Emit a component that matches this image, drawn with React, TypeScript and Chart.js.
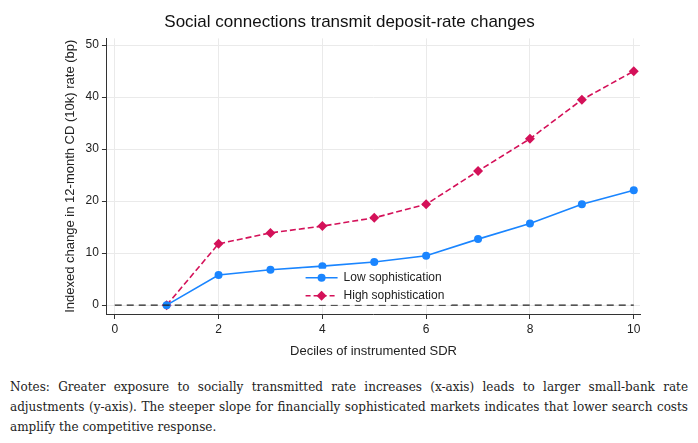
import React, { useEffect, useRef } from "react";
import { Chart, registerables } from "chart.js";
Chart.register(...registerables);

const deciles = [1, 2, 3, 4, 5, 6, 7, 8, 9, 10];
const lowSoph = [0, 5.8, 6.8, 7.5, 8.3, 9.5, 12.7, 15.7, 19.4, 22.1];
const highSoph = [0, 11.8, 13.9, 15.2, 16.8, 19.4, 25.8, 32.0, 39.5, 45.0];
const xTicks = [0, 2, 4, 6, 8, 10];
const yTicks = [0, 10, 20, 30, 40, 50];

const BLUE = "#1a85ff";
const RED = "#d41159";

const legendPlugin = {
  id: "insideLegend",
  afterDatasetsDraw(chart: any) {
    const { ctx, scales } = chart;
    const x0 = scales.x.getPixelForValue(3.6);
    const y0 = scales.y.getPixelForValue(7.0);
    const w = 150, h = 36;
    ctx.save();
    ctx.fillStyle = "#fff";
    ctx.fillRect(x0, y0, w, h);
    const items = [
      { c: BLUE, t: "Low sophistication", dash: [], shape: "circle" },
      { c: RED, t: "High sophistication", dash: [5, 3], shape: "diamond" },
    ];
    items.forEach((it, i) => {
      const yy = y0 + 9 + i * 18;
      ctx.strokeStyle = it.c;
      ctx.lineWidth = 1.6;
      ctx.setLineDash(it.dash);
      ctx.beginPath();
      ctx.moveTo(x0 + 4, yy);
      ctx.lineTo(x0 + 36, yy);
      ctx.stroke();
      ctx.setLineDash([]);
      ctx.fillStyle = it.c;
      ctx.beginPath();
      if (it.shape === "circle") ctx.arc(x0 + 20, yy, 4, 0, Math.PI * 2);
      else {
        ctx.moveTo(x0 + 20, yy - 5); ctx.lineTo(x0 + 25, yy); ctx.lineTo(x0 + 20, yy + 5); ctx.lineTo(x0 + 15, yy);
        ctx.closePath();
      }
      ctx.fill();
      ctx.fillStyle = "#222";
      ctx.font = "12px 'Liberation Sans', Arial, sans-serif";
      ctx.textBaseline = "middle";
      ctx.fillText(it.t, x0 + 42, yy);
    });
    ctx.restore();
  },
};

export default function App() {
  const ref = useRef<HTMLCanvasElement>(null);
  useEffect(() => {
    const chart = new Chart(ref.current!, {
      type: "line",
      data: {
        datasets: [
          {
            label: "zero",
            data: [{ x: 0, y: 0 }, { x: 10, y: 0 }],
            borderColor: "#222",
            borderWidth: 1.3,
            borderDash: [7, 5],
            pointRadius: 0,
          },
          {
            label: "Low sophistication",
            data: deciles.map((d, i) => ({ x: d, y: lowSoph[i] })),
            borderColor: BLUE,
            backgroundColor: BLUE,
            borderWidth: 1.6,
            pointRadius: 4,
            pointBorderWidth: 0,
          },
          {
            label: "High sophistication",
            data: deciles.map((d, i) => ({ x: d, y: highSoph[i] })),
            borderColor: RED,
            backgroundColor: RED,
            borderWidth: 1.6,
            borderDash: [6, 3],
            pointStyle: "rectRot",
            pointRadius: 5,
            pointBorderWidth: 0,
          },
        ],
      },
      options: {
        animation: false,
        responsive: false,
        layout: { padding: { left: 51, right: 50, top: 0, bottom: 0 } },
        plugins: {
          legend: { display: false },
          tooltip: { enabled: false },
          title: {
            display: true,
            text: "Social connections transmit deposit-rate changes",
            color: "#111",
            font: { size: 17, family: "'Liberation Sans', Arial, sans-serif", weight: "normal" },
            padding: { top: 4, bottom: 6 },
          },
        },
        scales: {
          x: {
            type: "linear",
            min: -0.15,
            max: 10.12,
            afterBuildTicks: (s: any) => { s.ticks = xTicks.map((v) => ({ value: v })); },
            grid: { color: "#eaeaea", drawTicks: true, tickColor: "#333", tickLength: 5 },
            border: { color: "#333" },
            ticks: { color: "#222", font: { size: 12, family: "'Liberation Sans', Arial" } },
            title: { display: true, text: "Deciles of instrumented SDR", color: "#222", font: { size: 13, family: "'Liberation Sans', Arial" } },
          },
          y: {
            min: -1.7,
            max: 51.3,
            afterBuildTicks: (s: any) => { s.ticks = yTicks.map((v) => ({ value: v })); },
            grid: { color: "#eaeaea", tickColor: "#333", tickLength: 5 },
            border: { color: "#333" },
            ticks: { color: "#222", font: { size: 12, family: "'Liberation Sans', Arial" } },
            title: { display: true, text: "Indexed change in 12-month CD (10k) rate (bp)", color: "#222", font: { size: 13, family: "'Liberation Sans', Arial" } },
          },
        },
      },
      plugins: [legendPlugin],
    } as any);
    return () => chart.destroy();
  }, []);
  return (
    <div style={{ width: 682 }}>
      <canvas ref={ref} width={682} height={355} style={{ display: "block" }} />
      <div
        style={{
          fontFamily: "'DejaVu Serif', serif",
          fontSize: 12,
          lineHeight: "20px",
          textAlign: "justify",
          color: "#222",
          marginTop: 14,
          padding: "0 2px",
        }}
      >
        Notes: Greater exposure to socially transmitted rate increases (x-axis) leads to larger small-bank rate
        adjustments (y-axis). The steeper slope for financially sophisticated markets indicates that lower search
        costs amplify the competitive response.
      </div>
    </div>
  );
}
